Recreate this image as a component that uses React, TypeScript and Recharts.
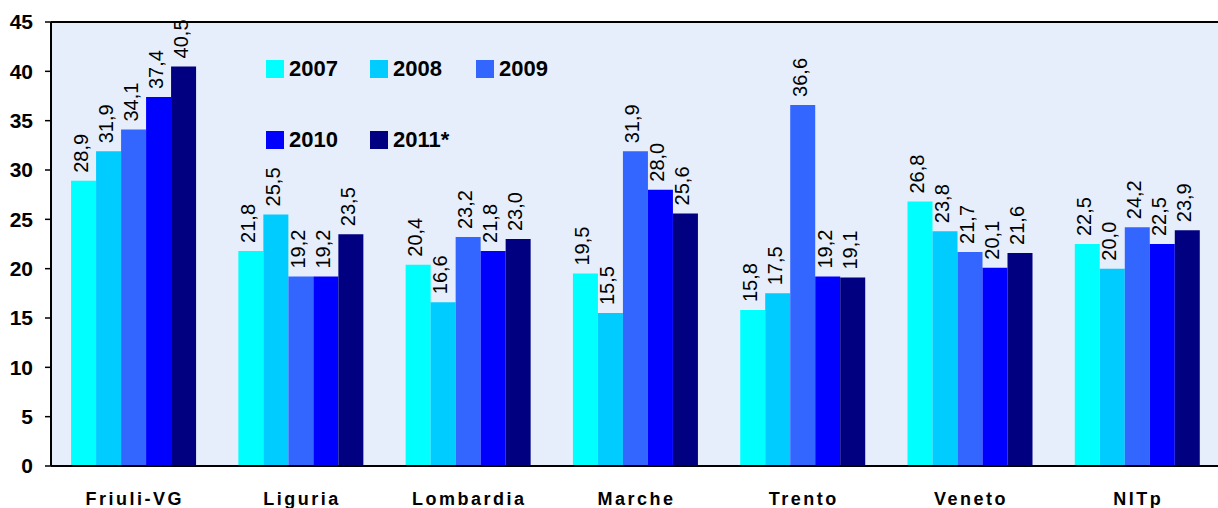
import React from "react";
import { BarChart, Bar, XAxis, YAxis, CartesianGrid, LabelList, Legend, ReferenceLine } from "recharts";

const regions = ["Friuli-VG", "Liguria", "Lombardia", "Marche", "Trento", "Veneto", "NITp"];
const years = ["2007", "2008", "2009", "2010", "2011*"];
const v2007 = [28.9, 21.8, 20.4, 19.5, 15.8, 26.8, 22.5];
const v2008 = [31.9, 25.5, 16.6, 15.5, 17.5, 23.8, 20.0];
const v2009 = [34.1, 19.2, 23.2, 31.9, 36.6, 21.7, 24.2];
const v2010 = [37.4, 19.2, 21.8, 28.0, 19.2, 20.1, 22.5];
const v2011 = [40.5, 23.5, 23.0, 25.6, 19.1, 21.6, 23.9];
const yTicks = [0, 5, 10, 15, 20, 25, 30, 35, 40, 45];

const seriesValues = [v2007, v2008, v2009, v2010, v2011];
const colors = ["#00FFFF", "#00CCFF", "#3366FF", "#0000FF", "#000080"];
const keys = ["y2007", "y2008", "y2009", "y2010", "y2011"];

const data = regions.map((r, i) => {
  const row: any = { region: r, idx: i + 0.5 };
  keys.forEach((k, s) => (row[k] = seriesValues[s][i]));
  return row;
});

const FONT = "'Liberation Sans', Arial, sans-serif";

const ValueLabel = (props: any) => {
  const { x, y, width, value } = props;
  const cx = x + width / 2 + 4;
  const ty = y - 8;
  return (
    <text
      x={cx}
      y={ty}
      transform={`rotate(-90, ${cx}, ${ty})`}
      textAnchor="start"
      fontFamily={FONT}
      fontSize={20}
      fill="#000"
    >
      {Number(value).toFixed(1).replace(".", ",")}
    </text>
  );
};

const LegendContent = () => {
  const positions = [
    [266, 60],
    [370, 60],
    [476, 60],
    [266, 131],
    [370, 131],
  ];
  return (
    <div style={{ position: "relative", width: 0, height: 0 }}>
      {years.map((yr, i) => (
        <div
          key={yr}
          style={{
            position: "absolute",
            left: positions[i][0],
            top: positions[i][1],
            display: "flex",
            alignItems: "center",
            whiteSpace: "nowrap",
          }}
        >
          <div style={{ width: 18, height: 18, background: colors[i] }} />
          <span
            style={{
              marginLeft: 5,
              fontFamily: FONT,
              fontWeight: "bold",
              fontSize: 22,
              lineHeight: "18px",
              color: "#000",
            }}
          >
            {yr}
          </span>
        </div>
      ))}
    </div>
  );
};

export default function App() {
  return (
    <div
      style={{
        position: "absolute",
        left: 0,
        top: 0,
        width: 1218,
        height: 508,
        overflow: "hidden",
        background: "#fff",
      }}
    >
      <BarChart
        width={1222}
        height={508}
        data={data}
        margin={{ top: 22, right: 0, bottom: 0, left: 0 }}
        barCategoryGap="12%"
        barGap={0}
      >
        <CartesianGrid fill="#E5EEFA" horizontal={false} vertical={false} stroke="none" />
        <XAxis
          xAxisId="b"
          type="number"
          dataKey="idx"
          domain={[0, 7]}
          ticks={[0, 1, 2, 3, 4, 5, 6, 7]}
          tickFormatter={() => ""}
          height={0}
          axisLine={false}
          tickLine={{ stroke: "#000", strokeWidth: 1.5 }}
          tickSize={6}
        />
        <XAxis
          dataKey="region"
          height={42}
          axisLine={{ stroke: "#000", strokeWidth: 2 }}
          tickLine={false}
          tickSize={6}
          tickMargin={20}
          tick={{ fontFamily: FONT, fontWeight: "bold", fontSize: 18, fill: "#000", letterSpacing: 2.5 }}
          interval={0}
        />
        <YAxis
          domain={[0, 45]}
          ticks={yTicks}
          width={51}
          axisLine={{ stroke: "#000", strokeWidth: 2 }}
          tickLine={{ stroke: "#000", strokeWidth: 1.5 }}
          tickSize={6}
          tickMargin={12}
          tick={{ fontFamily: FONT, fontWeight: "bold", fontSize: 21, fill: "#000" }}
          interval={0}
        />
        <ReferenceLine y={45} stroke="#000" strokeWidth={2} />
        <Legend
          content={<LegendContent />}
          wrapperStyle={{ position: "absolute", left: 0, top: 0, width: 0, height: 0 }}
        />
        {keys.map((k, i) => (
          <Bar key={k} dataKey={k} name={years[i]} fill={colors[i]} isAnimationActive={false}>
            <LabelList dataKey={k} content={<ValueLabel />} />
          </Bar>
        ))}
      </BarChart>
    </div>
  );
}
